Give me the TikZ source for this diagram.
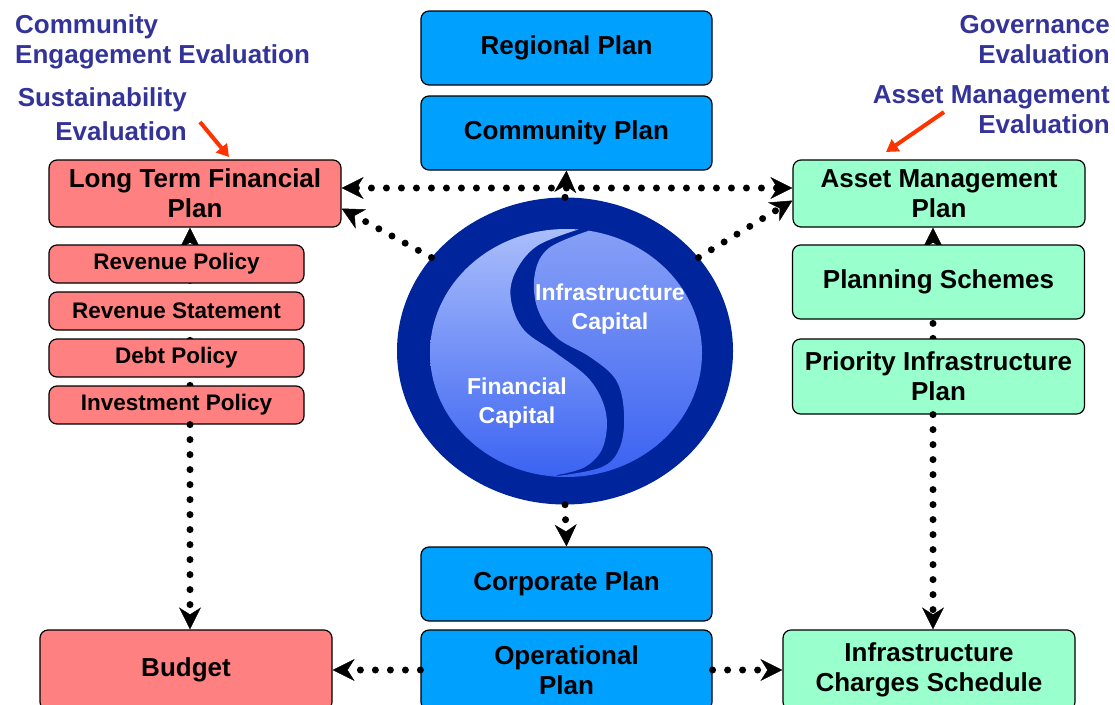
\documentclass[tikz,border=0pt]{standalone}
\usepackage{fontspec}
\setmainfont{Liberation Sans}
\usetikzlibrary{arrows.meta,shapes.geometric,backgrounds}

\definecolor{planblue}{RGB}{0,160,255}
\definecolor{planred}{RGB}{255,128,128}
\definecolor{plangreen}{RGB}{153,255,204}
\definecolor{evalblue}{RGB}{51,51,153}
\definecolor{ringblue}{RGB}{0,36,155}
\definecolor{lobetopl}{RGB}{170,190,251}
\definecolor{lobetopr}{RGB}{135,160,246}
\definecolor{lobebot}{RGB}{58,98,242}
\definecolor{pointred}{RGB}{255,51,0}

\begin{document}
\begin{tikzpicture}[x=1pt,y=-1pt,
  >={Stealth[length=22pt,width=22pt,inset=7pt,line width=0.5pt]},
  plan/.style={draw=black, line width=1.2pt, rounded corners=8pt, align=center, inner sep=0pt,
    font=\bfseries\fontsize{26}{30}\selectfont},
  blueplan/.style={plan, fill=planblue, minimum width=291pt, minimum height=74pt},
  redplan/.style={plan, fill=planred, minimum width=292pt},
  greenplan/.style={plan, fill=plangreen, minimum width=292pt},
  policy/.style={plan, fill=planred, minimum width=255pt, minimum height=38pt,
    font=\bfseries\fontsize{22.5}{25}\selectfont},
  evaltext/.style={text=evalblue, inner sep=0pt, font=\bfseries\fontsize{26}{30}\selectfont},
  captext/.style={text=white, align=center, inner sep=0pt, font=\bfseries\fontsize{23}{29}\selectfont},
  link/.style={line width=7pt, dash pattern=on 0pt off 15pt, line cap=round, ->},
  twolink/.style={link, <->},
  pointer/.style={pointred, line width=4pt, -{Triangle[length=12pt,width=14pt]}}
]
\clip (0,0) rectangle (1115,704);

\node[blueplan] (regional) at (566.5,48) {Regional Plan};
\node[blueplan] (community) at (566.5,133) {Community Plan};
\node[blueplan] (corporate) at (566.5,584) {Corporate Plan};
\node[blueplan, minimum height=80pt] (operational) at (566.5,670) {Operational\\Plan};

\node[redplan, minimum height=67pt] (ltfp) at (195,193.5) {Long Term Financial\\Plan};
\node[policy] (revpol) at (176.5,264) {Revenue Policy};
\node[policy] (revstat) at (176.5,311) {Revenue Statement};
\node[policy] (debtpol) at (176.5,358) {Debt Policy};
\node[policy] (invpol) at (176.5,405) {Investment Policy};
\node[redplan, minimum height=80pt] (budget) at (186,670) {Budget};

\node[greenplan, minimum height=67pt] (amp) at (939,193.5) {Asset Management\\Plan};
\node[greenplan, minimum height=74pt] (schemes) at (938.5,282) {Planning Schemes};
\node[greenplan, minimum height=75pt] (pip) at (938.5,376.5) {Priority Infrastructure\\Plan};
\node[greenplan, minimum height=80pt] (charges) at (929,670) {Infrastructure\\Charges Schedule};

\node[evaltext, align=left, anchor=base west] (commeval) at (15,63.5) {Community\\Engagement Evaluation};
\node[evaltext, align=right, anchor=base east, font=\bfseries\fontsize{26}{34}\selectfont] (sustaineval) at (187,140.5) {Sustainability\\Evaluation};
\node[evaltext, align=right, anchor=base east] (goveval) at (1110,63.5) {Governance\\Evaluation};
\node[evaltext, align=right, anchor=base east] (asseteval) at (1110,133.5) {Asset Management\\Evaluation};

\node[ellipse, fill=ringblue, minimum width=336pt, minimum height=307pt, inner sep=0pt] (capital) at (565,351) {};
\begin{scope}
  \clip (566,353) ellipse [x radius=136, y radius=124];
  \begin{scope}
    \clip plot[smooth, tension=0.6] coordinates {(580,229) (537,246) (515,273) (511,300) (524,330) (556,353) (590,380) (606,413) (603,447) (585,467) (557,475)}
      -- (557,490) -- (420,490) -- (420,215) -- (580,215) -- cycle;
    \shade[top color=lobetopl, bottom color=lobebot] (420,229) rectangle (712,478);
  \end{scope}
  \begin{scope}
    \clip plot[smooth, tension=0.6] coordinates {(588,231) (549,248) (535,273) (537,307) (556,337) (590,357) (616,380) (624,413) (620,447) (602,467) (557,476)}
      -- (557,490) -- (712,490) -- (712,215) -- (600,215) -- cycle;
    \shade[top color=lobetopr, bottom color=lobebot] (420,229) rectangle (712,478);
  \end{scope}
\end{scope}
\node[captext] (infracap) at (610,309) {Infrastructure\\Capital};
\node[captext] (fincap) at (517,403) {Financial\\Capital};

\coordinate (lspine) at (190,0);
\coordinate (rspine) at (933,0);
\begin{scope}[on background layer]
\draw[link] (invpol.north -| lspine) -- (ltfp.south -| lspine);
\draw[link] (pip.north -| rspine) -- (amp.south -| rspine);
\end{scope}
\draw[link] (invpol.south -| lspine) -- (budget.north -| lspine);
\draw[link] (pip.south -| rspine) -- (charges.north -| rspine);
\draw[twolink] ([yshift=5.5pt]ltfp.east) -- ([yshift=5.5pt]amp.west);
\draw[link] (capital.145) -- ([yshift=-15pt]ltfp.east);
\draw[link] (capital.35) -- ([yshift=-7pt]amp.west);
\draw[link] (capital.north) -- (community.south);
\draw[link] (capital.south) -- (corporate.north);
\draw[link] (operational.west) -- (budget.east);
\draw[link] (operational.east) -- (charges.west);

\coordinate (lpointtail) at (200,122);
\coordinate (lpointtip) at (229,157);
\coordinate (rpointtail) at (944,112);
\coordinate (rpointtip) at (886,152);
\draw[pointer] (lpointtail) -- (lpointtip);
\draw[pointer] (rpointtail) -- (rpointtip);
\end{tikzpicture}
\end{document}
